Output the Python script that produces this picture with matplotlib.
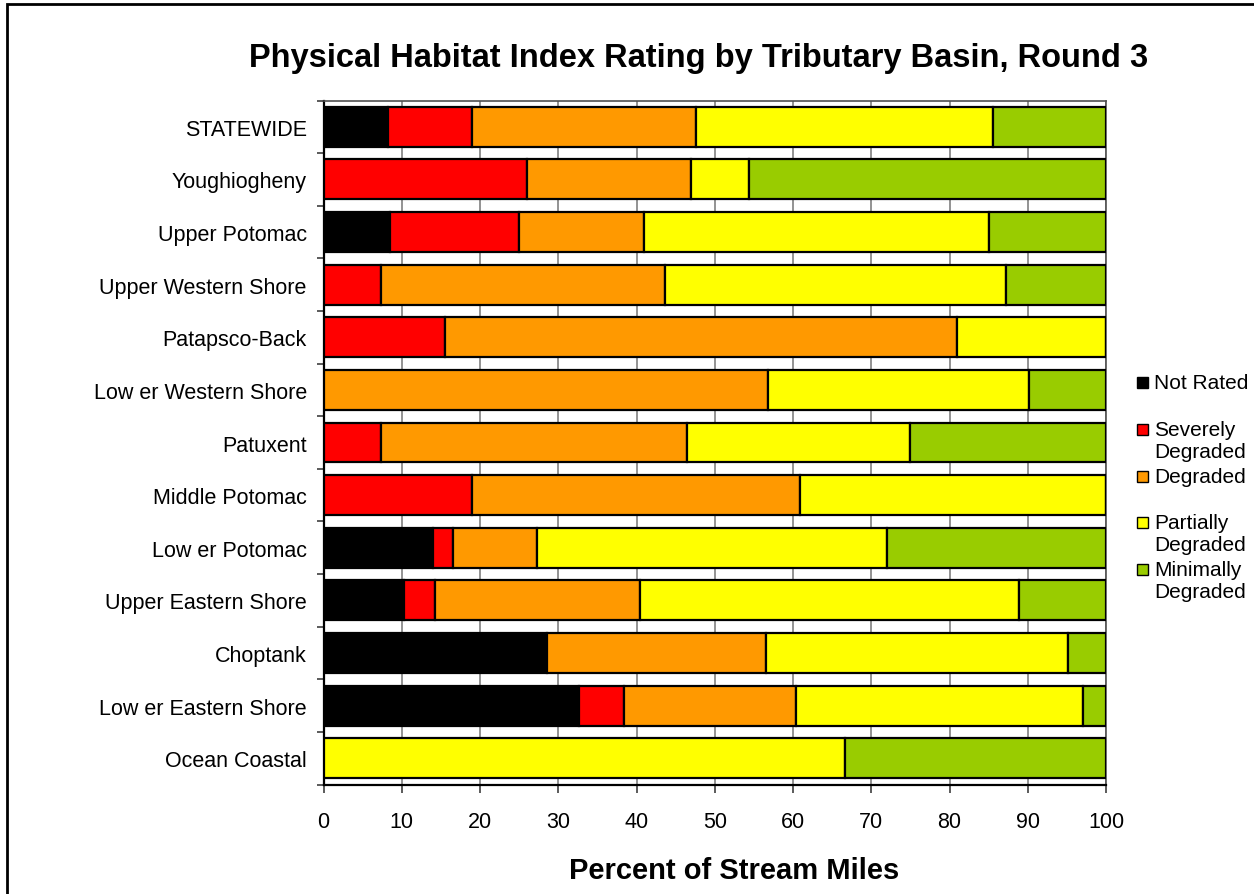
import numpy as np
import matplotlib
matplotlib.use("Agg")
import matplotlib.pyplot as plt
from matplotlib.patches import Rectangle

plt.rcParams['font.family'] = ['Liberation Sans', 'DejaVu Sans']

basins = ["STATEWIDE", "Youghiogheny", "Upper Potomac", "Upper Western Shore",
          "Patapsco-Back", "Low er Western Shore", "Patuxent", "Middle Potomac",
          "Low er Potomac", "Upper Eastern Shore", "Choptank",
          "Low er Eastern Shore", "Ocean Coastal"]

not_rated = [8.2, 0, 8.5, 0, 0, 0, 0, 0, 14.0, 10.3, 28.5, 32.7, 0]
severely  = [10.8, 26.0, 16.5, 7.4, 15.5, 0, 7.4, 19.0, 2.6, 3.9, 0, 5.7, 0]
degraded  = [28.6, 21.0, 16.0, 36.2, 65.4, 56.8, 39.1, 41.9, 10.7, 26.3, 28.0, 22.0, 0]
partially = [38.0, 7.4, 44.1, 43.6, 19.1, 33.3, 28.4, 39.1, 44.7, 48.4, 38.6, 36.6, 66.7]
minimally = [14.4, 45.6, 14.9, 12.8, 0, 9.9, 25.1, 0, 28.0, 11.1, 4.9, 3.0, 33.3]

series = ["Not Rated", "Severely\nDegraded", "Degraded",
          "Partially\nDegraded", "Minimally\nDegraded"]
colors = ["#000000", "#ff0000", "#ff9900", "#ffff00", "#99cc00"]

W, H = 1254, 895
fig = plt.figure(figsize=(W / 100, H / 100), dpi=100)
ax = fig.add_axes([323.5 / W, 1 - 785.5 / H, (1106 - 323.5) / W, (785.5 - 101.5) / H])

y = np.arange(len(basins))
left = np.zeros(len(basins))
for vals, col, lab in zip([not_rated, severely, degraded, partially, minimally], colors, series):
    vals = np.array(vals)
    ax.barh(y, vals, left=left, height=0.76, color=col, edgecolor="black",
            linewidth=1.6, label=lab, zorder=3)
    left += vals

ax.set_ylim(len(basins) - 0.5, -0.5)
ax.set_xlim(0, 100)
ax.set_xticks(np.arange(0, 101, 10))
ax.set_yticks(y)
ax.set_yticklabels(basins, fontsize=15.5)
ax.set_yticks(np.arange(-0.5, len(basins), 1), minor=True)
ax.tick_params(axis='y', which='major', length=0, pad=12)
ax.tick_params(axis='y', which='minor', length=5, width=1.2, color="#404040")
ax.tick_params(axis='x', length=6, width=1.2, labelsize=15.5, pad=13, color="#404040")
ax.grid(axis='x', color="#808080", linewidth=1.2, zorder=0)
for side in ["top", "right"]:
    ax.spines[side].set_color("#505050")
    ax.spines[side].set_linewidth(1.2)
for side in ["left", "bottom"]:
    ax.spines[side].set_color("black")
    ax.spines[side].set_linewidth(1.6)

fig.text(699 / W, 1 - 58 / H, "Physical Habitat Index Rating by Tributary Basin, Round 3",
         ha="center", va="center", fontsize=23.5, fontweight="bold")
fig.text(734 / W, 1 - 871 / H, "Percent of Stream Miles", ha="center", va="center",
         fontsize=21, fontweight="bold")

# legend at the right side
leg_y = [383, 430, 477, 523, 570]
for yy, col, lab in zip(leg_y, colors, series):
    fig.patches.append(Rectangle((1137 / W, 1 - (yy + 5.5) / H), 11 / W, 11 / H,
                                 transform=fig.transFigure, facecolor=col,
                                 edgecolor="black", linewidth=1.0))
    fig.text(1154 / W, 1 - (yy - 9) / H, lab, ha="left", va="top",
             fontsize=15, linespacing=1.2)

# outer frame
fig.patches.append(Rectangle((7 / W, -0.1), 1.2, 1 - 5 / H + 0.1,
                             transform=fig.transFigure, fill=False,
                             edgecolor="black", linewidth=2))

fig.savefig("out.png", dpi=100)
